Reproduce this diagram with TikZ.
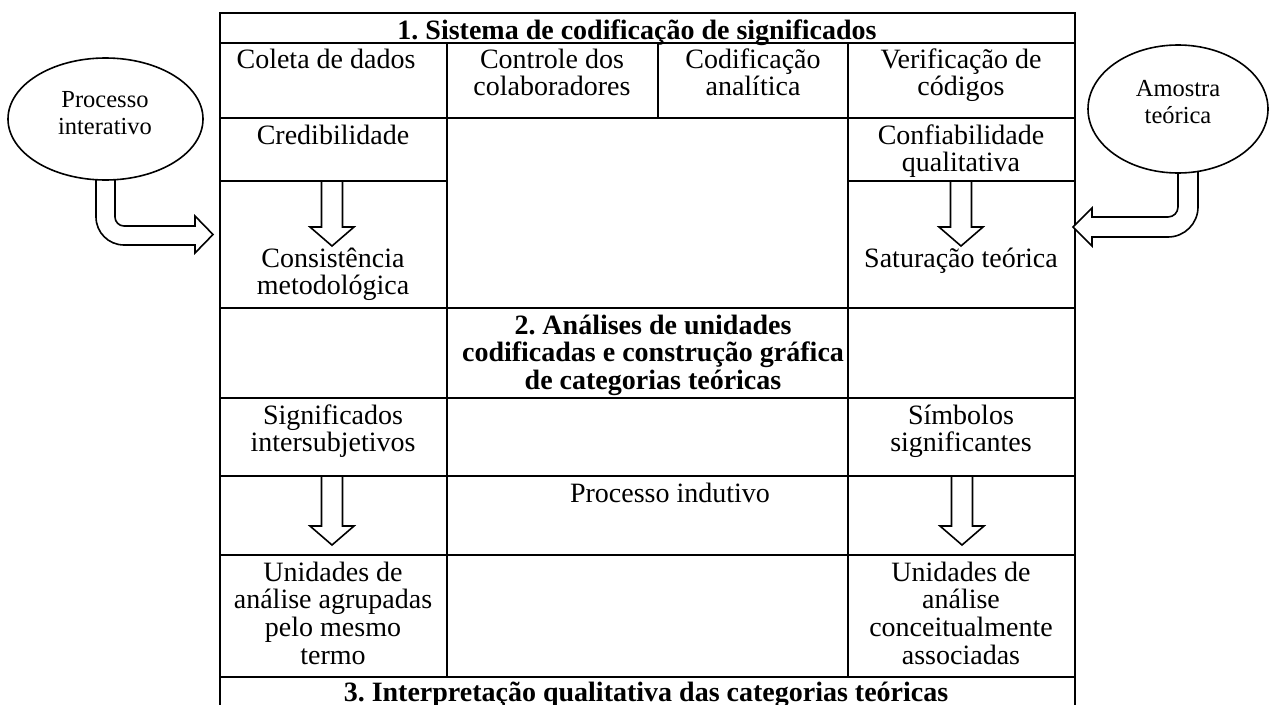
\documentclass[tikz,border=0pt]{standalone}
\usepackage{fontspec}
\setmainfont{Liberation Serif}
\usetikzlibrary{shapes.geometric}
\frenchspacing
\newcommand\mlines[1]{\vtop{\baselineskip=27.8pt\lineskiplimit=-100pt\halign{\hfil##\hfil\cr#1\crcr}}}
\newcommand\blockdown[4]{\draw[barrow] (#1-10.5,#2) -- (#1-10.5,#3) -- (#1-22,#3) -- (#1,#4) -- (#1+22,#3) -- (#1+10.5,#3) -- (#1+10.5,#2) -- cycle;}
\begin{document}
\begin{tikzpicture}[x=1pt,y=-1pt,
  tline/.style={line width=1.6pt},
  barrow/.style={draw, line width=1.6pt, fill=white, line join=miter},
  txt/.style={anchor=base, inner sep=0pt, font=\fontsize{28}{27.8}\selectfont},
  btxt/.style={anchor=base, inner sep=0pt, font=\fontsize{28}{27.8}\selectfont\bfseries},
  etxt/.style={anchor=base, inner sep=0pt, font=\fontsize{24.5}{28}\selectfont},
  oval/.style={draw, ellipse, line width=1.6pt, fill=white, inner sep=0pt}]
\useasboundingbox (0,0) rectangle (1271,704);
\clip (0,0) rectangle (1271,704);
% table
\draw[tline] (220,13) rectangle (1075,720);
\foreach \yy in {43,118,308,398,476,555,677}{\draw[tline] (220,\yy) -- (1075,\yy);}
\draw[tline] (220,181) -- (447,181);
\draw[tline] (848,181) -- (1075,181);
\draw[tline] (447,43) -- (447,677);
\draw[tline] (848,43) -- (848,677);
\draw[tline] (658,43) -- (658,118);
% texts
\node[btxt] (t1) at (637,39) {1. Sistema de codificação de significados};
\node[txt] (coleta) at (326,68) {\mlines{Coleta de dados}};
\node[txt] (controle) at (552,68) {\mlines{Controle dos\cr colaboradores}};
\node[txt] (codif) at (753,68) {\mlines{Codificação\cr analítica}};
\node[txt] (verif) at (961,68) {\mlines{Verificação de\cr códigos}};
\node[txt] (cred) at (333,144) {\mlines{Credibilidade}};
\node[txt] (conf) at (961,144) {\mlines{Confiabilidade\cr qualitativa}};
\node[txt] (cons) at (333,267) {\mlines{Consistência\cr metodológica}};
\node[txt] (sat) at (961,267) {\mlines{Saturação teórica}};
\node[btxt] (t2) at (653,334) {\mlines{2. Análises de unidades\cr codificadas e construção gráfica\cr de categorias teóricas}};
\node[txt] (sig) at (333,424) {\mlines{Significados\cr intersubjetivos}};
\node[txt] (simb) at (961,424) {\mlines{Símbolos\cr significantes}};
\node[txt] (indut) at (670,502) {\mlines{Processo indutivo}};
\node[txt] (unid1) at (333,581) {\mlines{Unidades de\cr análise agrupadas\cr pelo mesmo\cr termo}};
\node[txt] (unid2) at (961,581) {\mlines{Unidades de\cr análise\cr conceitualmente\cr associadas}};
\node[btxt] (t3) at (646,701) {3. Interpretação qualitativa das categorias teóricas};
% block arrows
\blockdown{332}{181}{227}{246}
\blockdown{961}{181}{227}{246}
\blockdown{332}{476}{526}{545}
\blockdown{962}{476}{526}{545}
% bent arrows
\draw[barrow] (96,168) -- (96,217) arc[start angle=180, end angle=90, radius=28]
  -- (195,245) -- (195,253) -- (213,234.5) -- (195,216) -- (195,226) -- (124,226)
  arc[start angle=90, end angle=180, radius=9] -- (115,168) -- cycle;
\draw[barrow] (1178,160) -- (1178,207) arc[start angle=0, end angle=90, radius=10]
  -- (1092,217) -- (1092,208) -- (1073,227) -- (1092,246) -- (1092,237) -- (1168,237)
  arc[start angle=90, end angle=0, radius=30] -- (1198,160) -- cycle;
% ellipses
\node[oval, minimum width=195pt, minimum height=122pt] (pi) at (105.5,119) {};
\node[oval, minimum width=180pt, minimum height=128pt] (am) at (1178,109) {};
\node[etxt] (pit) at (105,107) {\mlines{Processo\cr interativo}};
\node[etxt] (amt) at (1178,96) {\mlines{Amostra\cr teórica}};
\end{tikzpicture}
\end{document}
